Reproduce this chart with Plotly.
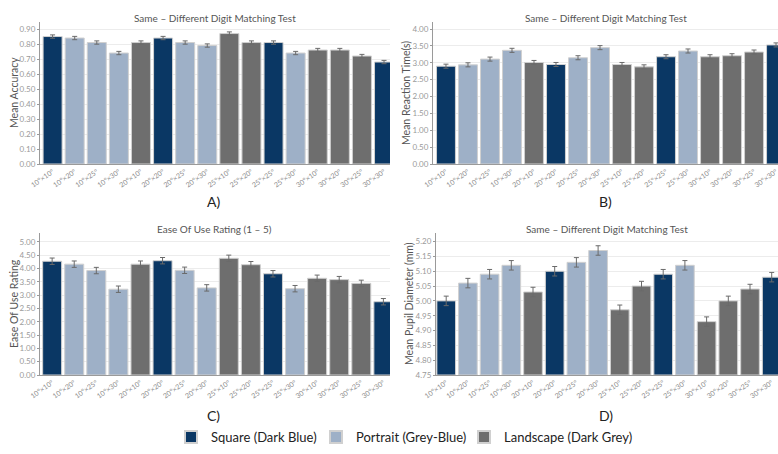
import plotly.graph_objects as go

categories = ["10°×10°", "10°×20°", "10°×25°", "10°×30°", "20°×10°", "20°×20°", "20°×25°", "20°×30°",
              "25°×10°", "25°×20°", "25°×25°", "25°×30°", "30°×10°", "30°×20°", "30°×25°", "30°×30°"]
shape_group = ["Square", "Portrait", "Portrait", "Portrait", "Landscape", "Square", "Portrait", "Portrait",
               "Landscape", "Landscape", "Square", "Portrait", "Landscape", "Landscape", "Landscape", "Square"]

accuracy = [0.85, 0.84, 0.81, 0.74, 0.81, 0.84, 0.81, 0.79, 0.87, 0.81, 0.81, 0.74, 0.76, 0.76, 0.72, 0.68]
accuracy_err = [0.011] * 16
reaction = [2.90, 2.94, 3.11, 3.37, 3.01, 2.95, 3.15, 3.45, 2.95, 2.88, 3.18, 3.35, 3.18, 3.21, 3.32, 3.53]
reaction_err = [0.06] * 16
ease = [4.27, 4.16, 3.92, 3.22, 4.16, 4.29, 3.93, 3.27, 4.38, 4.14, 3.80, 3.24, 3.63, 3.58, 3.44, 2.75]
ease_err = [0.12] * 16
pupil = [5.00, 5.06, 5.09, 5.12, 5.03, 5.10, 5.13, 5.17, 4.97, 5.05, 5.09, 5.12, 4.93, 5.00, 5.04, 5.08]
pupil_err = [0.016] * 16

groups = ["Square", "Portrait", "Landscape"]
group_names = {"Square": "Square (Dark Blue)", "Portrait": "Portrait (Grey-Blue)", "Landscape": "Landscape (Dark Grey)"}
group_colors = {"Square": "#0a3764", "Portrait": "#9eb0c7", "Landscape": "#6e6e6e"}
group_legend = {"Square": "legend", "Portrait": "legend2", "Landscape": "legend3"}
legend_left_px = {"Square": 171, "Portrait": 316, "Landscape": 464}

W, H = 778, 454
FONT = "Lato"

def px_x(p):
    return p / W

def px_y(p):
    return 1 - p / H

panels = [
    dict(vals=accuracy, err=accuracy_err, title="Same – Different Digit Matching Test", ytitle="Mean Accuracy",
         xd=[px_x(40), px_x(390)], yd=[px_y(164), px_y(22)], yr=[0, 0.947], xr=[-0.57, 15.27],
         tick0=0, dtick=0.1, fmt=".2f", letter="A)", lx=213, ly=201, ty=18, ytx=14),
    dict(vals=reaction, err=reaction_err, title="Same – Different Digit Matching Test", ytitle="Mean Reaction Time(s)",
         xd=[px_x(433), 1.0], yd=[px_y(164), px_y(22)], yr=[0, 4.21], xr=[-0.59, 15.09],
         tick0=0, dtick=0.5, fmt=".2f", letter="B)", lx=605, ly=201, ty=18, ytx=406),
    dict(vals=ease, err=ease_err, title="Ease Of Use Rating (1 – 5)", ytitle="Ease Of Use Rating",
         xd=[px_x(40), px_x(390)], yd=[px_y(375), px_y(233)], yr=[0, 5.33], xr=[-0.55, 15.3],
         tick0=0, dtick=0.5, fmt=".2f", letter="C)", lx=213, ly=415, ty=229, ytx=14),
    dict(vals=pupil, err=pupil_err, title="Same – Different Digit Matching Test", ytitle="Mean Pupil Diameter (mm)",
         xd=[px_x(436), 1.0], yd=[px_y(375), px_y(233)], yr=[4.75, 5.229], xr=[-0.47, 15.29],
         tick0=4.75, dtick=0.05, fmt=".2f", letter="D)", lx=606, ly=415, ty=229, ytx=409),
]

fig = go.Figure()
annotations = []
layout_axes = {}

for i, p in enumerate(panels):
    n = i + 1
    xa = "x" if n == 1 else f"x{n}"
    ya = "y" if n == 1 else f"y{n}"
    for g in groups:
        xs = [c for c, s in zip(categories, shape_group) if s == g]
        ys = [v for v, s in zip(p["vals"], shape_group) if s == g]
        es = [e for e, s in zip(p["err"], shape_group) if s == g]
        base = p["yr"][0] if p["yr"][0] > 0 else None
        fig.add_trace(go.Bar(
            x=xs, y=[v - (base or 0) for v in ys], base=base, name=group_names[g],
            marker=dict(color=group_colors[g], line=dict(color="#d0d0d0", width=1)),
            error_y=dict(type="data", array=es, color="#6a6a6a", thickness=1, width=2.5),
            xaxis=xa, yaxis=ya, showlegend=(i == 0), legendgroup=g, legend=group_legend[g],
        ))
    layout_axes["xaxis" if n == 1 else f"xaxis{n}"] = dict(
        domain=p["xd"], anchor=ya, type="category", categoryorder="array", categoryarray=categories,
        range=p["xr"], tickangle=-35, tickfont=dict(size=7, color="#8a8a8a", family=FONT),
        showline=True, linecolor="#9a9a9a", linewidth=1, showgrid=False, ticks="", fixedrange=True,
        automargin=False,
    )
    layout_axes["yaxis" if n == 1 else f"yaxis{n}"] = dict(
        domain=p["yd"], anchor=xa, range=p["yr"], tick0=p["tick0"], dtick=p["dtick"], tickformat=p["fmt"],
        tickfont=dict(size=8, color="#9a9a9a", family=FONT), showline=True, linecolor="#9a9a9a", linewidth=1,
        showgrid=True, gridcolor="#ececec", gridwidth=1, zeroline=False, ticks="outside", ticklen=2,
        tickcolor="#9a9a9a", automargin=False, fixedrange=True,
    )
    xc = (p["xd"][0] + p["xd"][1]) / 2
    annotations.append(dict(text=p["title"], x=xc, y=px_y(p["ty"]), xref="paper", yref="paper",
                            showarrow=False, font=dict(size=10, color="#555555", family=FONT),
                            xanchor="center", yanchor="middle"))
    annotations.append(dict(text=p["letter"], x=px_x(p["lx"]), y=px_y(p["ly"]), xref="paper", yref="paper",
                            showarrow=False, font=dict(size=14, color="#222222", family=FONT),
                            xanchor="center", yanchor="middle"))
    annotations.append(dict(text=p["ytitle"], x=px_x(p["ytx"]), y=(p["yd"][0] + p["yd"][1]) / 2,
                            xref="paper", yref="paper", showarrow=False, textangle=-90,
                            font=dict(size=10.5, color="#555555", family=FONT),
                            xanchor="center", yanchor="middle"))

legend_style = dict(orientation="h", xanchor="left", y=px_y(437), yanchor="middle",
                    font=dict(size=13, color="#222222", family=FONT), itemsizing="constant",
                    itemwidth=30, bgcolor="rgba(0,0,0,0)")

fig.update_layout(
    width=W, height=H, margin=dict(l=0, r=0, t=0, b=0, autoexpand=False),
    paper_bgcolor="white", plot_bgcolor="white",
    barmode="overlay", bargap=0.14,
    font=dict(family=FONT),
    annotations=annotations,
    legend=dict(x=px_x(legend_left_px["Square"]), **legend_style),
    legend2=dict(x=px_x(legend_left_px["Portrait"]), **legend_style),
    legend3=dict(x=px_x(legend_left_px["Landscape"]), **legend_style),
    **layout_axes,
)

fig.write_html("out.html", config={"displayModeBar": False},
               post_script="document.body.style.margin = '0';")
